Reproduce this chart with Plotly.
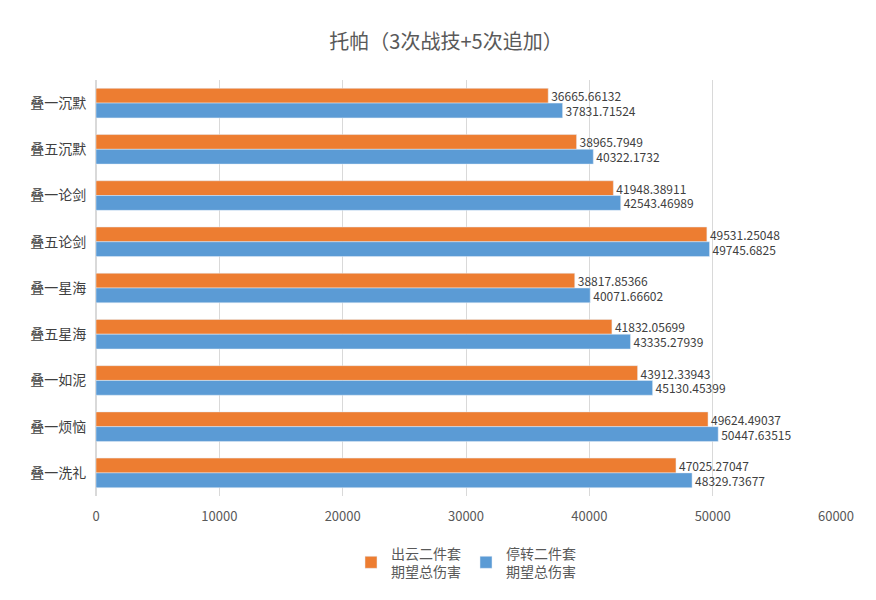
import plotly.graph_objects as go

categories = ["叠一沉默", "叠五沉默", "叠一论剑", "叠五论剑", "叠一星海",
              "叠五星海", "叠一如泥", "叠一烦恼", "叠一洗礼"]
chuyun = [36665.66132, 38965.7949, 41948.38911, 49531.25048, 38817.85366,
          41832.05699, 43912.33943, 49624.49037, 47025.27047]
tingzhuan = [37831.71524, 40322.1732, 42543.46989, 49745.6825, 40071.66602,
             43335.27939, 45130.45399, 50447.63515, 48329.73677]

font = "Noto Sans CJK SC"
fig = go.Figure()
fig.add_trace(go.Bar(y=categories, x=chuyun, orientation="h", name="出云二件套<br>期望总伤害",
                     marker_color="#ED7D31", text=[str(v) for v in chuyun],
                     textposition="outside", cliponaxis=False, constraintext="none",
                     textfont=dict(size=12, color="#404040")))
fig.add_trace(go.Bar(y=categories, x=tingzhuan, orientation="h", name="停转二件套<br>期望总伤害",
                     marker_color="#5B9BD5", text=[str(v) for v in tingzhuan],
                     textposition="outside", cliponaxis=False, constraintext="none",
                     textfont=dict(size=12, color="#404040")))

fig.update_layout(
    width=876, height=600,
    paper_bgcolor="white", plot_bgcolor="white",
    font=dict(family=font, color="#595959", size=13),
    title=dict(text="托帕（3次战技+5次追加）", x=0.5, y=0.955, xanchor="center",
               font=dict(size=20, color="#595959")),
    margin=dict(l=88, r=48, t=72, b=112, autoexpand=False),
    barmode="group", bargap=0.36, bargroupgap=0,
    legend=dict(orientation="h", x=0.5, xanchor="center", y=-0.1, yanchor="top",
                font=dict(size=14, color="#595959")),
    xaxis=dict(range=[0, 60000], dtick=10000, tickformat="d", showgrid=True,
               gridcolor="#D9D9D9", zeroline=True, zerolinecolor="#D9D9D9",
               tickfont=dict(size=13), ticks="outside", ticklen=8, tickcolor="white",
               showline=False),
    yaxis=dict(autorange="reversed", tickfont=dict(size=14, color="#404040"),
               ticks="outside", ticklen=6, tickcolor="white", showline=False),
)
fig.write_html("out.html")
